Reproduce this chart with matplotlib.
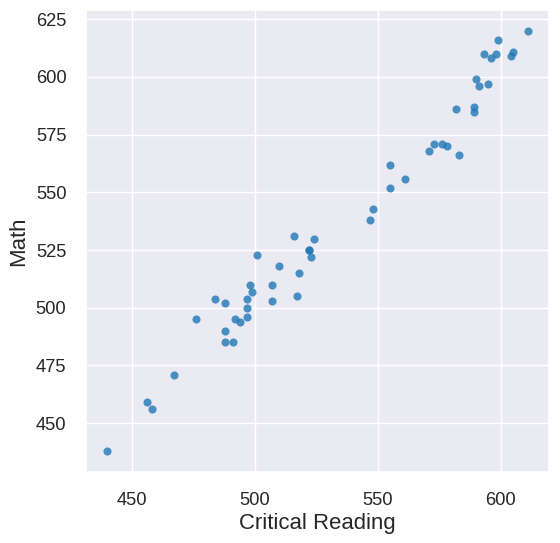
import matplotlib

matplotlib.use("Agg")
import matplotlib.pyplot as plt
import seaborn as sns

# Average SAT scores per state: critical reading vs math
critical_reading = [
    440, 456, 458, 467, 476, 484, 488, 488, 488, 491,
    492, 494, 497, 497, 497, 498, 499, 501, 507, 507,
    517, 518, 510, 516, 524, 522, 522, 523, 611, 599,
    605, 604, 593, 598, 596, 590, 591, 595, 582, 589,
    589, 571, 573, 576, 578, 583, 555, 561, 555, 548,
    547,
]
math_scores = [
    438, 459, 456, 471, 495, 504, 502, 490, 485, 485,
    495, 494, 496, 500, 504, 510, 507, 523, 503, 510,
    505, 515, 518, 531, 530, 525, 525, 522, 620, 616,
    611, 609, 610, 610, 608, 599, 596, 597, 586, 587,
    585, 568, 571, 571, 570, 566, 562, 556, 552, 543,
    538,
]

sns.set_theme(style="darkgrid")
plt.rcParams["font.family"] = ["Liberation Sans", "DejaVu Sans"]

fig = plt.figure(figsize=(5.6, 5.43), dpi=100)
ax = fig.add_subplot(111)
fig.subplots_adjust(left=0.154, right=0.98, top=0.982, bottom=0.131)

ax.scatter(critical_reading, math_scores, s=34, color="#1f77b4", alpha=0.8, linewidths=0)

ax.set_xticks([450, 500, 550, 600])
ax.set_yticks([450, 475, 500, 525, 550, 575, 600, 625])
ax.tick_params(labelsize=13.2, pad=8.3)
ax.set_xlabel("Critical Reading", fontsize=15.9, labelpad=3)
ax.set_ylabel("Math", fontsize=15.9, labelpad=5)

fig.savefig("out.png", dpi=100)
plt.close(fig)
